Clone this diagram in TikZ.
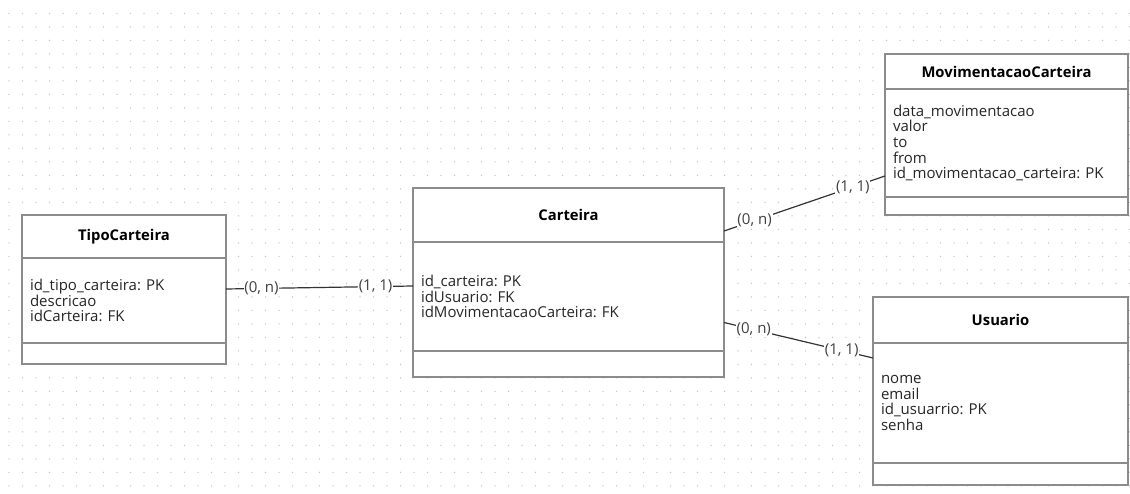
\documentclass[tikz,border=0pt]{standalone}
\usepackage{fontspec}
\setmainfont{Open Sans}
\usepackage{tikz}
\usetikzlibrary{positioning}
\usepackage{xcolor}
\definecolor{boxline}{HTML}{8C8C8C}
\definecolor{attrfg}{HTML}{262626}
\definecolor{griddot}{HTML}{C4C4C4}
\frenchspacing

\begin{document}
\begin{tikzpicture}[
  x=1pt, y=-1pt,
  head/.style={draw=boxline, fill=white, line width=1.8pt, outer sep=0pt,
               font=\fontsize{14.8}{15.7}\selectfont\bfseries},
  attrs/.style={draw=boxline, fill=white, line width=1.8pt, outer sep=0pt,
                inner xsep=8pt, align=left, text=attrfg,
                font=\fontsize{15}{15.7}\selectfont},
  foot/.style={draw=boxline, fill=white, line width=1.8pt, outer sep=0pt},
  link/.style={line width=1.2pt, color=black!80},
  card/.style={fill=white, inner sep=0.8pt, text=black!75,
               font=\fontsize{15}{15}\selectfont},
]
  \useasboundingbox (0,0) rectangle (1130,494);

  % dotted canvas
  \foreach \i in {0,...,83}
    \foreach \j in {0,...,35}
      \fill[griddot] (9+13.5*\i, 13.3+13.5*\j) circle (0.75pt);

  % TipoCarteira
  \node[head, minimum width=204pt, minimum height=43pt] (tipo) at (124,236.5) {TipoCarteira};
  \node[attrs, text width=188pt, minimum height=85pt, below=0pt of tipo] (tipo-attr)
    {id\_tipo\_carteira: PK\\descricao\\idCarteira: FK};
  \node[foot, minimum width=204pt, minimum height=21pt, below=0pt of tipo-attr] (tipo-foot) {};

  % Carteira
  \node[head, minimum width=311pt, minimum height=54pt] (cart) at (568.5,215) {Carteira};
  \node[attrs, text width=295pt, minimum height=109pt, below=0pt of cart] (cart-attr)
    {id\_carteira: PK\\idUsuario: FK\\idMovimentacaoCarteira: FK};
  \node[foot, minimum width=311pt, minimum height=26pt, below=0pt of cart-attr] (cart-foot) {};

  % MovimentacaoCarteira
  \node[head, minimum width=243pt, minimum height=35pt] (mov) at (1006.5,71.5) {MovimentacaoCarteira};
  \node[attrs, text width=227pt, minimum height=108pt, below=0pt of mov] (mov-attr)
    {data\_movimentacao\\valor\\to\\from\\id\_movimentacao\_carteira: PK};
  \node[foot, minimum width=243pt, minimum height=18pt, below=0pt of mov-attr] (mov-foot) {};

  % Usuario
  \node[head, minimum width=255pt, minimum height=46pt] (usr) at (1000.5,320) {Usuario};
  \node[attrs, text width=239pt, minimum height=120pt, below=0pt of usr] (usr-attr)
    {nome\\email\\id\_usuarrio: PK\\senha};
  \node[foot, minimum width=255pt, minimum height=22pt, below=0pt of usr-attr] (usr-foot) {};

  % relationships
  \draw[link] ([yshift=11.5pt]tipo-attr.east) -- ([yshift=10.5pt]cart-attr.west)
    node[card, pos=0.19] {(0, n)} node[card, pos=0.80] {(1, 1)};
  \draw[link] ([yshift=-16pt]cart.east) -- ([yshift=-33pt]mov-attr.west)
    node[card, pos=0.19] {(0, n)} node[card, pos=0.80] {(1, 1)};
  \draw[link] ([yshift=-26pt]cart-attr.east) -- ([yshift=45pt]usr-attr.west)
    node[card, pos=0.20] {(0, n)} node[card, pos=0.79] {(1, 1)};
\end{tikzpicture}
\end{document}
